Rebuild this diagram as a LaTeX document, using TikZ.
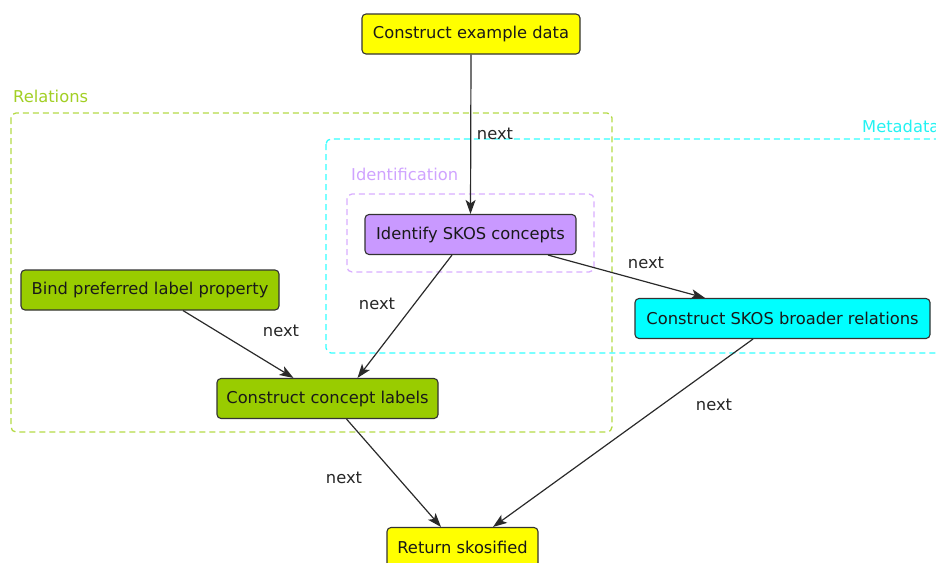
\documentclass[tikz,border=0pt]{standalone}
\usepackage{fontspec}
\setmainfont{DejaVu Sans}
\usetikzlibrary{arrows.meta}

\definecolor{fillyellow}{HTML}{FFFF00}
\definecolor{fillpurple}{HTML}{C999FF}
\definecolor{fillgreen}{HTML}{99CC00}
\definecolor{fillcyan}{HTML}{00FFFF}
\definecolor{relline}{HTML}{B4DA46}
\definecolor{reltext}{HTML}{A2CF24}
\definecolor{metaline}{HTML}{33FFFF}
\definecolor{metatext}{HTML}{22F2F2}
\definecolor{idline}{HTML}{D9AEFF}
\definecolor{idtext}{HTML}{CFA3FF}
\definecolor{boxline}{HTML}{333333}
\definecolor{arrowline}{HTML}{2A2A2A}

\tikzset{
  stepbox/.style={draw=boxline, line width=1.1pt, rounded corners=4pt,
    minimum height=40pt, inner sep=0pt, text=black!90},
  groupbox/.style={dashed, dash pattern=on 6pt off 4pt, line width=1.3pt,
    rounded corners=5pt},
  grouplabel/.style={anchor=base west, inner sep=0pt},
  flow/.style={draw=arrowline, line width=1.2pt,
    -{Stealth[length=14pt,width=10pt,inset=3.5pt]}},
  flowlabel/.style={inner sep=0pt, text=black!85},
}

\begin{document}
\begin{tikzpicture}[x=1pt, y=-1pt, font=\fontsize{16.3}{19}\selectfont]
\useasboundingbox (0,0) rectangle (936,562);
\clip (0,0) rectangle (936,562);

% clusters
\draw[groupbox, draw=relline] (11,113) rectangle (612,432);
\node[grouplabel, text=reltext] (lblrel) at (13,102) {Relations};

\draw[groupbox, draw=metaline] (326,139) rectangle (960,353);
\node[grouplabel, text=metatext] (lblmeta) at (862,132) {Metadata};

\draw[groupbox, draw=idline] (347,194) rectangle (594,272);
\node[grouplabel, text=idtext] (lblid) at (351,180) {Identification};

% steps
\node[stepbox, fill=fillyellow, minimum width=218pt] (ex) at (471,34) {Construct example data};
\node[stepbox, fill=fillpurple, minimum width=211pt] (ident) at (470.5,234.5) {Identify SKOS concepts};
\node[stepbox, fill=fillgreen, minimum width=258pt] (bind) at (150,290) {Bind preferred label property};
\node[stepbox, fill=fillcyan, minimum width=295pt] (broader) at (782.5,318.5) {Construct SKOS broader relations};
\node[stepbox, fill=fillgreen, minimum width=221pt] (labels) at (327.5,398.5) {Construct concept labels};
\node[stepbox, fill=fillyellow, minimum width=151pt] (ret) at (462.5,547.5) {Return skosified};

% transitions
\draw[flow] (ex.south) -- (ident.north);
\draw[flow] ([xshift=77.5pt]ident.south) -- ([xshift=-77.5pt]broader.north);
\draw[flow] ([xshift=-18.5pt]ident.south) -- ([xshift=30pt]labels.north);
\draw[flow] ([xshift=33pt]bind.south) -- ([xshift=-34pt]labels.north);
\draw[flow] ([xshift=19pt]labels.south) -- ([xshift=-21.5pt]ret.north);
\draw[flow] ([xshift=-29.5pt]broader.south) -- ([xshift=30.5pt]ret.north);

% transition labels
\node[flowlabel] (n1) at (495,134) {next};
\node[flowlabel] (n2) at (646,263) {next};
\node[flowlabel] (n3) at (377,304) {next};
\node[flowlabel] (n4) at (281,331) {next};
\node[flowlabel] (n5) at (344,478) {next};
\node[flowlabel] (n6) at (714,405) {next};
\end{tikzpicture}
\end{document}
